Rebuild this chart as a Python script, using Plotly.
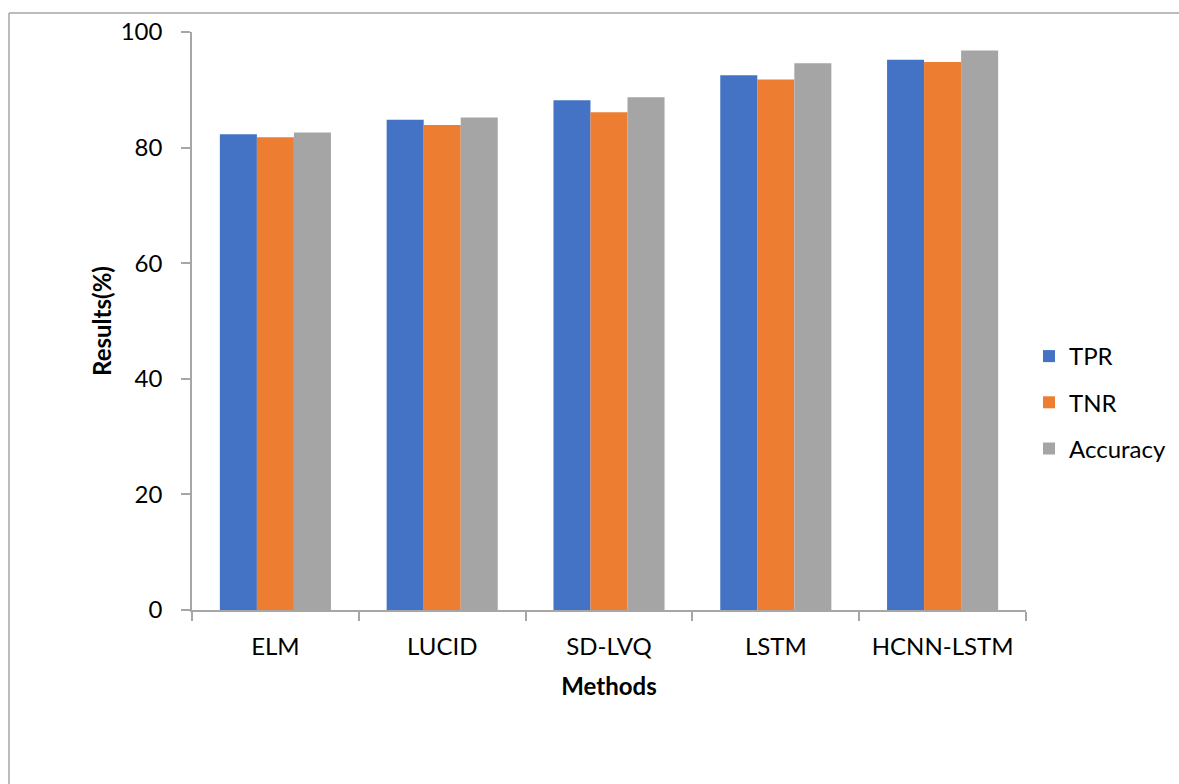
import plotly.graph_objects as go

methods = ["ELM", "LUCID", "SD-LVQ", "LSTM", "HCNN-LSTM"]
tpr = [82.3, 84.8, 88.2, 92.5, 95.2]
tnr = [81.8, 83.9, 86.1, 91.8, 94.8]
accuracy = [82.6, 85.2, 88.7, 94.6, 96.8]

series = [
    ("TPR", tpr, "#4472C4"),
    ("TNR", tnr, "#ED7D31"),
    ("Accuracy", accuracy, "#A5A5A5"),
]

FONT = "Lato"
AXIS_GREY = "#A6A6A6"

fig = go.Figure()
for name, vals, color in series:
    fig.add_trace(go.Bar(
        name=name, x=methods, y=vals,
        marker=dict(color=color, line=dict(width=0)),
        legendgroup=name,
    ))

W, H = 1179, 784
L, R, T, B = 192, 153, 32, 174

def px(x):
    return (x - L) / (W - L - R)

def py(y):
    return (H - B - y) / (H - T - B)

fig.update_layout(
    width=W, height=H,
    margin=dict(l=L, r=R, t=T, b=B, autoexpand=False),
    paper_bgcolor="white", plot_bgcolor="white",
    barmode="group", bargap=0.334, bargroupgap=0,
    font=dict(family=FONT, size=24, color="#000000"),
    showlegend=True,
    legend=dict(
        x=px(1029), xanchor="left", y=py(334), yanchor="top",
        font=dict(size=24), tracegroupgap=12,
        itemwidth=30, bgcolor="rgba(0,0,0,0)",
    ),
    xaxis=dict(
        showline=True, linecolor=AXIS_GREY, linewidth=1.5,
        ticks="outside", tickson="boundaries", ticklen=9,
        tickcolor=AXIS_GREY, tickwidth=1.5,
        ticklabelstandoff=14, automargin=False,
        title=dict(text="<b>Methods</b>", standoff=20, font=dict(size=24)),
        showgrid=False, zeroline=False,
    ),
    yaxis=dict(
        range=[0, 100], tickvals=[0, 20, 40, 60, 80, 100],
        showline=True, linecolor=AXIS_GREY, linewidth=1.5,
        ticks="outside", ticklen=9, tickcolor=AXIS_GREY, tickwidth=1.5,
        ticklabelstandoff=14, automargin=False,
        title=dict(text="<b>Results(%)</b>", standoff=2, font=dict(size=24)),
        showgrid=False, zeroline=False,
    ),
    shapes=[
        dict(type="line", xref="paper", yref="paper",
             x0=px(9), x1=px(1200), y0=py(13), y1=py(13),
             line=dict(color="#A6A6A6", width=1.5)),
        dict(type="line", xref="paper", yref="paper",
             x0=px(9), x1=px(9), y0=py(13), y1=py(800),
             line=dict(color="#A6A6A6", width=1.5)),
    ],
)

fig.write_html("out.html")
